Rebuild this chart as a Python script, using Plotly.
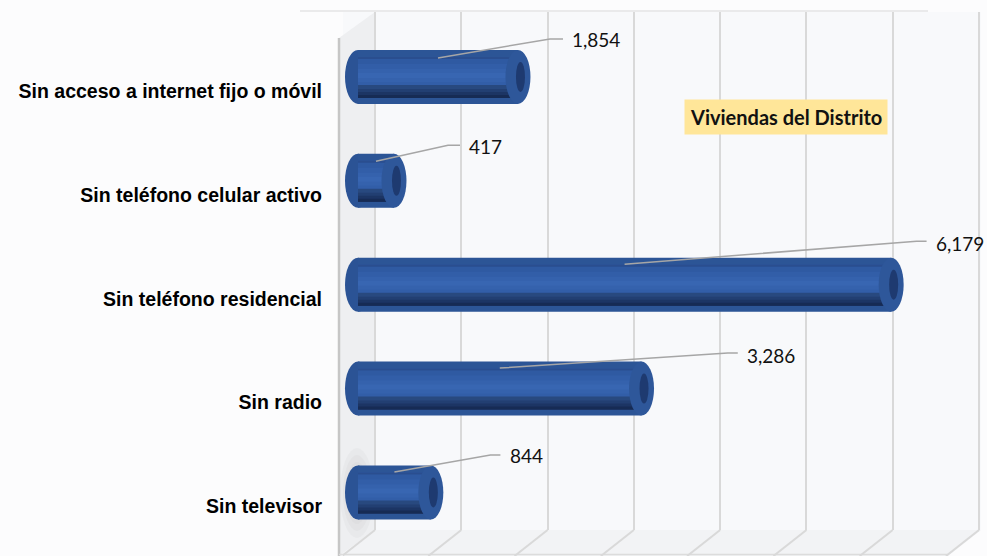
import plotly.graph_objects as go

# ---------------- data ----------------
categories = [
    "Sin acceso a internet fijo o móvil",
    "Sin teléfono celular activo",
    "Sin teléfono residencial",
    "Sin radio",
    "Sin televisor",
]
values = [1854, 417, 6179, 3286, 844]
value_labels = ["1,854", "417", "6,179", "3,286", "844"]
series_name = "Viviendas del Distrito"
grid_max = 7000
grid_step = 1000

# ---------------- layout geometry (pixels) ----------------
W, H = 987, 556
PL, PR, PT, PB = 343, 981, 12, 530          # plot area
S = 604 / 7000                               # px per unit (depth planes)
BACK0, BAR0 = 375, 358                       # pixel of value 0 on back wall / bar plane
U = 103.9                                    # px per category step
Y0PX = 492.5                                 # pixel of bottom category centre
DEPTH_DX = -33                               # floor depth offset

def px2paper_x(p):
    return (p - PL) / (PR - PL)

def px2paper_y(q):
    return (PB - q) / (PB - PT)

n = len(categories)
ypos = [n - 1 - i for i in range(n)]

x_range = [-(BACK0 - PL) / S, (PR - BACK0) / S]
x2_range = [-(BAR0 - PL) / S, (PR - BAR0) / S]
y_range = [-(PB - Y0PX) / U, (Y0PX - PT) / U]

fig = go.Figure()

# empty trace so the back-plane grid axis exists
fig.add_trace(go.Scatter(x=[None], y=[None], xaxis="x", yaxis="y",
                         showlegend=False, hoverinfo="skip"))

# cylinder body bands: (top px, bottom px) relative to centre (screen, down +), colour
bands = [
    (-27, 27, "#2c5596"),
    (-20, 21, "#2f5aa2"),
    (-20, -18, "#2a4e8f"),
    (-13, 9, "#325ea8"),
    (-8, 5, "#3562ad"),
    (-4, 1, "#3866b2"),
    (8, 21, "#28497f"),
    (12, 21, "#223f72"),
    (15, 21, "#1c3564"),
    (18, 21, "#162b54"),
]
for top, bot, col in bands:
    fig.add_trace(go.Bar(
        x=values, y=ypos, orientation="h", xaxis="x2", yaxis="y",
        width=(bot - top) / U, offset=-bot / U,
        marker=dict(color=col, line=dict(width=0)),
        showlegend=False, hoverinfo="skip", name=series_name,
    ))

shapes = []

# back wall top edge / frame line
shapes.append(dict(type="line", xref="paper", yref="paper",
                   x0=px2paper_x(300), x1=px2paper_x(928),
                   y0=px2paper_y(11), y1=px2paper_y(11),
                   line=dict(color="#e4e4e4", width=1.5), layer="below"))
# left side wall
shapes.append(dict(type="path", xref="paper", yref="paper", layer="below",
                   path="M{},{} L{},{} L{},{} L{},{} Z".format(
                       px2paper_x(339), px2paper_y(38), px2paper_x(BACK0), px2paper_y(PT),
                       px2paper_x(BACK0), px2paper_y(PB), px2paper_x(339), px2paper_y(H)),
                   fillcolor="#eeeff1", line=dict(width=0)))
# floor
shapes.append(dict(type="path", xref="paper", yref="paper", layer="below",
                   path="M{},{} L{},{} L{},{} L{},{} Z".format(
                       px2paper_x(BACK0), px2paper_y(PB), px2paper_x(PR), px2paper_y(PB),
                       px2paper_x(PR + DEPTH_DX), px2paper_y(H), px2paper_x(339), px2paper_y(H)),
                   fillcolor="#f2f3f5", line=dict(width=0)))
# soft shadow behind the bottom cylinder's left end (layered for blur)
for (l, r, t, b) in [(340, 374, 448, 538), (343, 371, 455, 531), (346, 368, 462, 524), (349, 365, 470, 516)]:
    shapes.append(dict(type="circle", xref="paper", yref="paper", layer="below",
                       x0=px2paper_x(l), x1=px2paper_x(r),
                       y0=px2paper_y(b), y1=px2paper_y(t),
                       fillcolor="rgba(110,110,110,0.045)", line=dict(width=0)))
# front edge of left wall
shapes.append(dict(type="line", xref="paper", yref="paper", layer="below",
                   x0=px2paper_x(339), x1=px2paper_x(339),
                   y0=px2paper_y(38), y1=px2paper_y(H),
                   line=dict(color="#c6c6c6", width=2.5)))
# floor bottom edge
shapes.append(dict(type="line", xref="paper", yref="paper", layer="below",
                   x0=px2paper_x(339), x1=px2paper_x(PR + DEPTH_DX),
                   y0=px2paper_y(H - 1.5), y1=px2paper_y(H - 1.5),
                   line=dict(color="#dcdcdc", width=1.5)))
# floor diagonals from each gridline
g = 0
while g <= grid_max:
    shapes.append(dict(type="line", xref="x", yref="paper", layer="below",
                       xsizemode="pixel", xanchor=g, x0=0, x1=DEPTH_DX,
                       y0=0, y1=px2paper_y(H),
                       line=dict(color="#d9d9d9", width=2)))
    g += grid_step

# left rounded ends of the cylinders
for v, yp in zip(values, ypos):
    shapes.append(dict(type="circle", xref="x2", yref="y", layer="below",
                       xsizemode="pixel", xanchor=0, x0=-13, x1=13,
                       ysizemode="pixel", yanchor=yp, y0=-27, y1=27,
                       fillcolor="#2b5395", line=dict(width=0)))

# right end caps (hollow tube look)
for v, yp in zip(values, ypos):
    shapes.append(dict(type="circle", xref="x2", yref="y", layer="above",
                       xsizemode="pixel", xanchor=v, x0=-12.5, x1=12.5,
                       ysizemode="pixel", yanchor=yp, y0=-27, y1=27,
                       fillcolor="#2e579a", line=dict(width=0)))
    shapes.append(dict(type="circle", xref="x2", yref="y", layer="above",
                       xsizemode="pixel", xanchor=v, x0=-2, x1=7,
                       ysizemode="pixel", yanchor=yp, y0=-15, y1=15,
                       fillcolor="#1e3a70", line=dict(width=0)))

# leader lines: (start up, elbow dx, elbow up, end dx) in px relative to (v/2, centre)
leaders = [
    (19, 112, 38, 125),
    (19.5, 72, 35.5, 84),
    (20.5, 292, 43.5, 302),
    (20.5, 228, 35.5, 238),
    (20.5, 96, 37.5, 106),
]
label_shift = [(132, 37), (91, 34.5), (309, 41.5), (245, 33.5), (114, 37.5)]

for v, yp, (su, ex, eu, endx) in zip(values, ypos, leaders):
    shapes.append(dict(type="path", xref="x2", yref="y", layer="above",
                       xsizemode="pixel", xanchor=v / 2,
                       ysizemode="pixel", yanchor=yp,
                       path=f"M0,{su} L{ex},{eu} L{endx},{eu}",
                       line=dict(color="#a6a6a6", width=1.5)))

annotations = []
for v, yp, lab, (dx, dy) in zip(values, ypos, value_labels, label_shift):
    annotations.append(dict(x=v / 2, y=yp, xref="x2", yref="y", text=lab,
                            showarrow=False, xanchor="left", yanchor="middle",
                            xshift=dx, yshift=dy,
                            font=dict(family="Lato", size=19, color="#111111")))

annotations.append(dict(x=px2paper_x(785.5), y=px2paper_y(117), xref="paper", yref="paper",
                        text=series_name, showarrow=False, xanchor="center", yanchor="middle",
                        bgcolor="#ffe699", borderpad=5,
                        font=dict(family="Lato", size=20, color="#111111", weight="bold")))

fig.update_layout(
    width=W, height=H,
    margin=dict(l=PL, r=W - PR, t=PT, b=H - PB, pad=0),
    paper_bgcolor="#fcfcfd",
    plot_bgcolor="#f8f9fb",
    barmode="overlay",
    showlegend=False,
    shapes=shapes,
    annotations=annotations,
    xaxis=dict(range=x_range, tick0=0, dtick=grid_step, showgrid=True,
               gridcolor="#d9d9d9", gridwidth=2, zeroline=True,
               zerolinecolor="#d9d9d9", zerolinewidth=2,
               showticklabels=False, ticks="", showline=False, fixedrange=True),
    xaxis2=dict(range=x2_range, overlaying="x", showgrid=False, zeroline=False,
                showticklabels=False, ticks="", showline=False, fixedrange=True),
    yaxis=dict(range=y_range, tickvals=ypos, ticktext=categories,
               showgrid=False, zeroline=False, showline=False, ticks="",
               ticklabelstandoff=20, ticklabelshift=14,
               tickfont=dict(family="Liberation Sans", size=19.5, color="#000000", weight="bold"),
               fixedrange=True),
)

fig.write_html("out.html", config={"displayModeBar": False},
               post_script="document.body.style.margin='0px';")
